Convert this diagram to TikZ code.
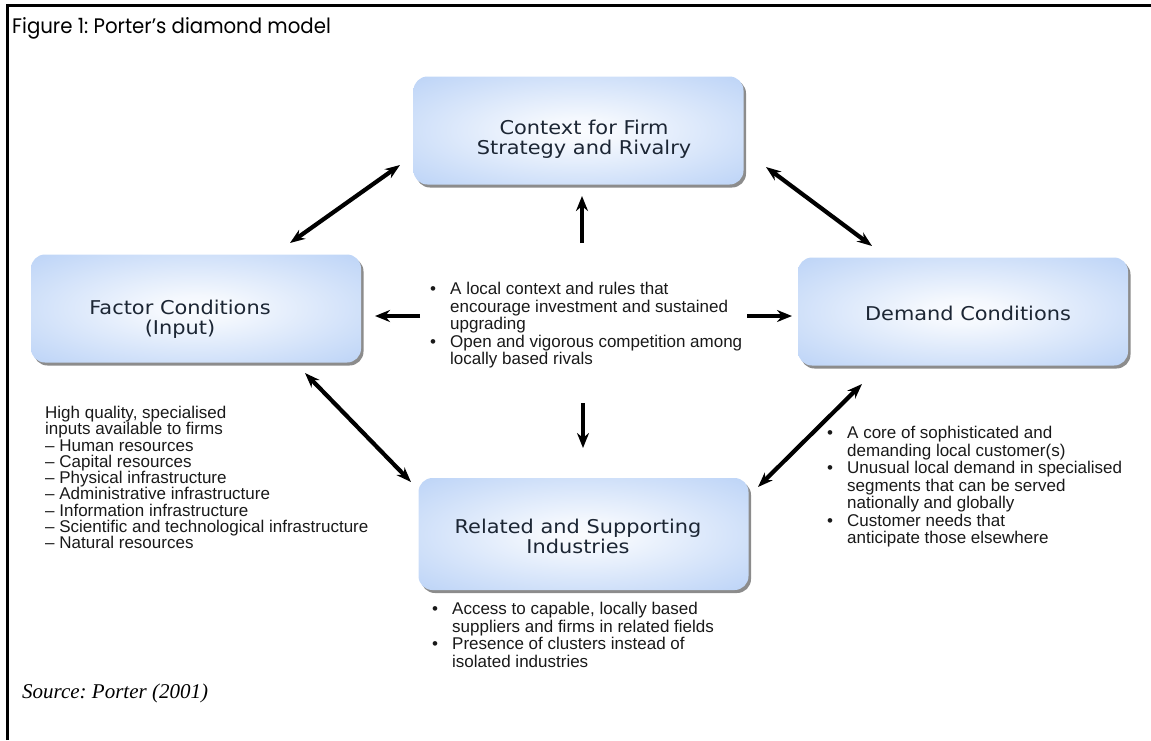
\documentclass[tikz,border=0pt]{standalone}
\usepackage{fontspec}
\setmainfont{Liberation Sans}
\newfontfamily\boxfont[FakeStretch=1.1]{DejaVu Sans}
\newfontfamily\titlefont[FakeStretch=0.94]{Poppins}
\newfontfamily\srcfont{Liberation Serif}
\usetikzlibrary{arrows.meta,shadows}
\definecolor{boxblue}{RGB}{166,197,244}
\definecolor{labeltext}{RGB}{28,38,52}
\definecolor{bodytext}{RGB}{25,25,25}
\pgfdeclareradialshading{pshade}{\pgfpoint{0bp}{0bp}}{%
  color(0bp)=(white!95!boxblue); color(6bp)=(white!88!boxblue);
  color(26bp)=(white!45!boxblue); color(42bp)=(white!12!boxblue); color(50bp)=(boxblue)}
\tikzset{
  pbox/.style={rounded corners=14pt, inner sep=0pt, minimum width=330pt, minimum height=108pt,
    shade, shading=pshade,
    drop shadow={shadow xshift=2.5pt, shadow yshift=-3pt, opacity=0.6, fill=black!75}},
  plabel/.style={font=\boxfont\fontsize{19}{20}\selectfont, text=labeltext, align=center, inner sep=0pt},
  ptext/.style={font=\fontsize{17}{17.3}\selectfont, text=bodytext, inner sep=0pt, anchor=north west, align=left},
  conn/.style={line width=4.6pt, -{Stealth[length=15pt,width=12pt]}},
  dconn/.style={line width=4.2pt, {Stealth[length=15pt,width=11pt]}-{Stealth[length=15pt,width=11pt]}},
  frameline/.style={line width=3pt, black}
}
\begin{document}
\frenchspacing
\begin{tikzpicture}[x=1pt,y=-1pt]
\useasboundingbox (0,0) rectangle (1151,740);
% frame
\draw[frameline] (7,740) -- (7,5) -- (1151,5);
% title
\node[anchor=base west, inner sep=0pt, font=\titlefont\fontsize{21}{24}\selectfont] (title) at (12,33) {Figure 1: Porter’s diamond model};
% boxes
\node[pbox] (ctx) at (578.5,130.5) {};
\node[pbox] (fac) at (196,308.5) {};
\node[pbox] (dem) at (963,311.5) {};
\node[pbox, minimum height=112pt] (rel) at (583.5,534) {};
% labels
\node[plabel] (ctxl) at (584,139) {Context for Firm\\Strategy and Rivalry};
\node[plabel] (facl) at (180,319.5) {Factor Conditions\\(Input)};
\node[plabel] (deml) at (968,313) {Demand Conditions};
\node[plabel] (rell) at (578,536) {Related and Supporting\\Industries};
% texts
\node[ptext] (mid) at (430,282) {\begin{tabular}{@{}p{20pt}@{}l@{}}
\textbullet & A local context and rules that\\
 & encourage investment and sustained\\
 & upgrading\\
\textbullet & Open and vigorous competition among\\
 & locally based rivals
\end{tabular}};
\node[ptext, font=\fontsize{17}{16.25}\selectfont] (left) at (45,406) {High quality, specialised\\
inputs available to firms\\
– Human resources\\
– Capital resources\\
– Physical infrastructure\\
– Administrative infrastructure\\
– Information infrastructure\\
– Scientific and technological infrastructure\\
– Natural resources};
\node[ptext] (right) at (827,426) {\begin{tabular}{@{}p{20pt}@{}l@{}}
\textbullet & A core of sophisticated and\\
 & demanding local customer(s)\\
\textbullet & Unusual local demand in specialised\\
 & segments that can be served\\
 & nationally and globally\\
\textbullet & Customer needs that\\
 & anticipate those elsewhere
\end{tabular}};
\node[ptext] (bot) at (432,602) {\begin{tabular}{@{}p{20pt}@{}l@{}}
\textbullet & Access to capable, locally based\\
 & suppliers and firms in related fields\\
\textbullet & Presence of clusters instead of\\
 & isolated industries
\end{tabular}};
% source
\node[anchor=base west, inner sep=0pt, font=\srcfont\itshape\fontsize{21}{23}\selectfont] (src) at (22,698) {Source: Porter (2001)};
% connector end points
\coordinate (tlA) at (290,243); \coordinate (tlB) at (400,165);
\coordinate (trA) at (766,167); \coordinate (trB) at (872,246);
\coordinate (blA) at (305,373); \coordinate (blB) at (411,482);
\coordinate (brA) at (758,487); \coordinate (brB) at (862,384);
\coordinate (upA) at (582,243); \coordinate (upB) at (582,196);
\coordinate (dnA) at (583,403); \coordinate (dnB) at (583,448);
\coordinate (lfA) at (420,316); \coordinate (lfB) at (375,316);
\coordinate (rtA) at (747,316); \coordinate (rtB) at (792,316);
% connectors
\draw[dconn] (tlA) -- (tlB);
\draw[dconn] (trA) -- (trB);
\draw[dconn] (blA) -- (blB);
\draw[dconn] (brA) -- (brB);
\draw[conn] (upA) -- (upB);
\draw[conn] (dnA) -- (dnB);
\draw[conn] (lfA) -- (lfB);
\draw[conn] (rtA) -- (rtB);
\end{tikzpicture}
\end{document}
